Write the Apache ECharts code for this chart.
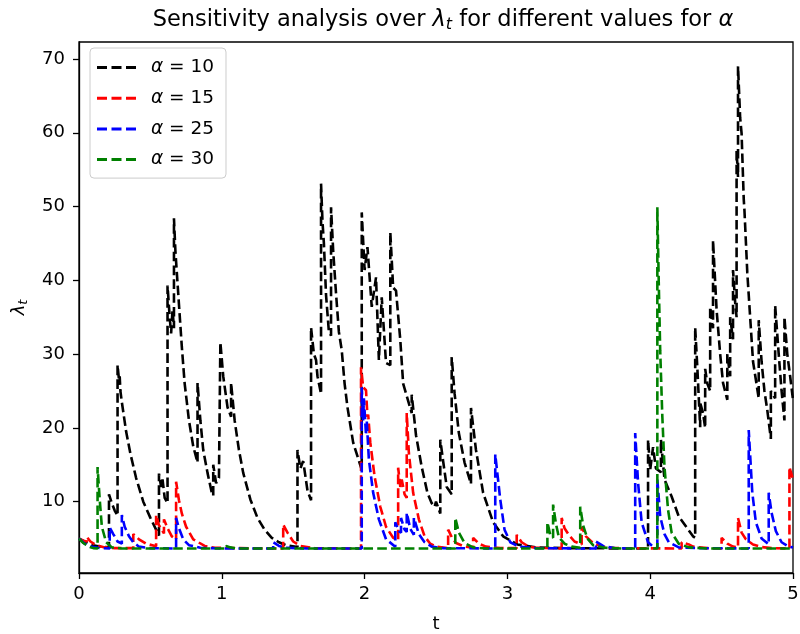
<!DOCTYPE html>
<html>
<head>
<meta charset="utf-8">
<script src="https://cdn.jsdelivr.net/npm/echarts@6/dist/echarts.min.js"></script>
<style>html,body{margin:0;padding:0;background:#fff}#c{width:800px;height:634px}</style>
</head>
<body>
<div id="c"></div>
<script>
// Series values: [t, lambda_t]
const alpha10 = [
  [0,5.0],[0.05,4.5],[0.1,4.1],[0.15,3.9],[0.21,3.8],[0.21,11.0],[0.23,9.8],[0.25,8.8],[0.27,8.1],[0.27,28.5],
  [0.28,26.5],[0.285,27.0],[0.29,25.0],[0.3,23.5],[0.33,19.5],[0.36,16.5],[0.4,13.2],[0.45,10.0],[0.5,7.8],[0.56,5.4],
  [0.56,13.8],[0.575,12.0],[0.585,13.0],[0.6,10.5],[0.62,9.8],[0.62,39.3],[0.635,35],[0.645,32.8],[0.655,36],[0.665,33.5],
  [0.665,48.4],[0.675,44],[0.69,39.6],[0.72,31],[0.74,26],[0.77,21],[0.8,17.5],[0.83,15.3],[0.83,26.1],[0.85,21],
  [0.87,17],[0.9,13.9],[0.93,11.2],[0.94,10.8],[0.94,15],[0.96,12.5],[0.98,13.2],[0.99,13],[0.99,31.6],[1.01,27],
  [1.04,22.8],[1.065,21.5],[1.065,26.1],[1.09,21],[1.12,17],[1.15,13.9],[1.2,10.3],[1.25,7.8],[1.3,6.2],[1.35,5.1],
  [1.4,4.5],[1.45,4.1],[1.53,3.85],[1.53,17.0],[1.55,14.5],[1.57,15.5],[1.6,11.5],[1.625,10.2],[1.625,33.6],[1.645,30],
  [1.66,29.2],[1.67,27],[1.695,24.6],[1.695,53.1],[1.705,48],[1.715,45],[1.73,38],[1.75,33],[1.765,32.5],[1.765,49.9],
  [1.78,44],[1.8,38.2],[1.82,33],[1.84,30.5],[1.86,26],[1.88,22.8],[1.92,18],[1.98,14.3],[1.98,49.2],[2.0,41.4],
  [2.02,44.5],[2.05,36.4],[2.08,40.4],[2.1,29.2],[2.12,37.7],[2.15,28.8],[2.18,28.5],[2.18,46.5],[2.2,39],[2.22,38.6],
  [2.25,31.9],[2.27,26],[2.33,22],[2.33,24.5],[2.36,19],[2.4,14.7],[2.44,11.2],[2.47,9.8],[2.49,9.3],[2.5,10],
  [2.53,8.4],[2.53,18.4],[2.55,15.5],[2.575,12.0],[2.61,11],[2.61,29.6],[2.63,24.7],[2.66,19.3],[2.7,15.3],[2.745,12.4],
  [2.745,22.7],[2.78,17],[2.83,11.2],[2.9,7.2],[2.97,5.3],[3.07,4.2],[3.2,3.8],[3.4,3.7],[3.985,3.65],[3.985,18.4],
  [4.0,14.3],[4.02,17.4],[4.04,14.5],[4.075,14.0],[4.075,18.4],[4.1,13],[4.15,10.7],[4.2,8],[4.3,5.3],[4.315,5.1],
  [4.315,33.6],[4.33,28.2],[4.35,20.1],[4.35,23.4],[4.37,22],[4.385,20],[4.385,28],[4.4,26],[4.42,25],[4.42,36.4],
  [4.435,34],[4.44,33.5],[4.44,45.4],[4.465,36],[4.49,30],[4.51,26.1],[4.54,23.8],[4.54,30],[4.56,27],[4.56,35],
  [4.58,32],[4.58,41.4],[4.595,37],[4.605,35],[4.605,57.6],[4.615,54],[4.615,69],[4.63,62],[4.64,59.9],[4.655,51],
  [4.66,49.5],[4.68,41],[4.7,35],[4.72,29],[4.76,24],[4.76,34.6],[4.78,29],[4.8,25],[4.82,22.4],[4.845,18.5],
  [4.845,25],[4.875,24],[4.875,36.6],[4.9,30],[4.92,25],[4.94,21],[4.94,35],[4.96,30],[4.98,27],[5.0,23.8]
];
const alpha15 = [
  [0,5.0],[0.03,4.7],[0.055,4.6],[0.055,5.2],[0.08,4.6],[0.12,4.1],[0.18,3.8],[0.25,3.7],[0.38,3.7],[0.38,5.6],
  [0.42,4.9],[0.47,4.3],[0.54,3.95],[0.54,8.2],[0.56,6.8],[0.595,5.7],[0.595,7.6],[0.62,6.4],[0.65,5.3],[0.68,4.9],
  [0.68,12.7],[0.7,10.2],[0.72,8.4],[0.75,6.6],[0.8,4.9],[0.88,4.0],[0.95,3.75],[1.1,3.7],[1.43,3.65],[1.43,6.9],
  [1.46,5.8],[1.5,4.6],[1.55,4.0],[1.65,3.7],[1.975,3.65],[1.975,28.2],[1.99,25.5],[2.01,25.1],[2.02,21.5],[2.025,21.8],
  [2.04,18.0],[2.07,13.4],[2.11,9.3],[2.15,6.6],[2.2,5.1],[2.235,4.8],[2.235,14.6],[2.25,12.0],[2.26,13.0],[2.28,11.0],
  [2.295,10.5],[2.295,22],[2.31,16.6],[2.34,11.2],[2.38,7.6],[2.42,5.3],[2.46,4.3],[2.5,3.9],[2.585,3.7],[2.585,6.2],
  [2.61,5.2],[2.64,4.4],[2.7,3.9],[2.76,3.75],[2.76,5.1],[2.8,4.3],[2.85,3.9],[2.95,3.7],[3.065,3.7],[3.065,5.5],
  [3.1,4.5],[3.15,3.9],[3.2,3.75],[3.38,3.65],[3.38,7.8],[3.4,6.4],[3.43,5.5],[3.47,4.6],[3.52,4.2],[3.52,6.6],
  [3.55,5.3],[3.6,4.4],[3.65,3.95],[3.75,3.7],[4.22,3.65],[4.22,4.5],[4.27,4.2],[4.3,3.9],[4.4,3.7],[4.5,3.65],
  [4.5,5.1],[4.54,4.3],[4.58,3.9],[4.615,3.8],[4.615,7.8],[4.64,5.8],[4.67,4.9],[4.72,4.2],[4.78,3.85],[4.85,3.7],
  [4.975,3.65],[4.975,14.7],[5.0,13]
];
const alpha25 = [
  [0,5.0],[0.04,4.3],[0.08,3.9],[0.15,3.7],[0.215,3.65],[0.215,6.5],[0.24,5.6],[0.27,4.6],[0.3,4.3],[0.3,8.2],
  [0.32,6.6],[0.35,5.3],[0.38,4.5],[0.42,3.9],[0.5,3.7],[0.68,3.65],[0.68,7.8],[0.7,6.4],[0.73,4.9],[0.77,4.1],
  [0.85,3.75],[1.0,3.65],[1.36,3.65],[1.36,4.5],[1.4,4.0],[1.45,3.75],[1.6,3.65],[1.98,3.65],[1.98,25.5],[1.99,21],
  [1.995,24],[2.01,19],[2.015,21],[2.03,15.7],[2.06,11.2],[2.1,7.6],[2.15,4.9],[2.215,3.9],[2.215,7.2],[2.24,6.0],
  [2.255,5.8],[2.255,7.8],[2.28,6.2],[2.295,5.9],[2.295,8.5],[2.32,6.3],[2.345,5.5],[2.345,7.8],[2.38,5.6],[2.42,4.5],
  [2.47,3.9],[2.55,3.7],[2.915,3.65],[2.915,16.4],[2.95,10.3],[2.98,6.2],[3.02,4.5],[3.08,3.9],[3.2,3.7],[3.62,3.65],
  [3.62,4.6],[3.67,4.0],[3.75,3.7],[3.895,3.65],[3.895,19.3],[3.915,12.6],[3.94,7.2],[3.985,4.5],[4.02,3.9],[4.05,3.8],
  [4.05,13],[4.07,8],[4.1,5.6],[4.13,4.5],[4.2,3.8],[4.35,3.7],[4.69,3.65],[4.69,19.7],[4.715,11.2],[4.74,7.2],
  [4.78,5.0],[4.83,4.2],[4.83,11.2],[4.85,8.5],[4.88,6],[4.92,4.5],[4.97,3.9],[5.0,3.8]
];
const alpha30 = [
  [0,5.0],[0.03,4.4],[0.07,3.9],[0.1,3.7],[0.13,3.65],[0.13,14.7],[0.145,10.3],[0.16,6.6],[0.19,4.5],[0.23,3.8],
  [0.3,3.65],[1.03,3.65],[1.03,4.0],[1.06,3.8],[1.1,3.65],[2.635,3.65],[2.635,7.8],[2.66,5.8],[2.7,4.4],[2.76,3.8],
  [2.85,3.65],[3.28,3.65],[3.28,7.2],[3.3,5.5],[3.32,5.1],[3.32,9.6],[3.34,7.0],[3.36,5.2],[3.4,4.3],[3.45,3.9],
  [3.51,3.75],[3.51,9.3],[3.53,6.8],[3.56,5.0],[3.6,4.1],[3.68,3.75],[3.8,3.65],[4.05,3.65],[4.05,49.9],[4.06,39.6],
  [4.07,30.5],[4.085,21.5],[4.1,14.7],[4.125,8.9],[4.15,5.8],[4.2,4.3],[4.27,3.8],[4.4,3.65],[5.0,3.65]
];
const seriesNames = ['α = 10', 'α = 15', 'α = 25', 'α = 30'];
const seriesColors = ['#000000', '#ff0000', '#0000ff', '#008000'];
const seriesData = [alpha10, alpha15, alpha25, alpha30];
const xTicks = [0, 1, 2, 3, 4, 5];
const yTicks = [10, 20, 30, 40, 50, 60, 70];

const FONT = 'DejaVu Sans';
const DASH_ICON = 'path://M0,0h10v3h-10z M14.5,0h10v3h-10z M29,0h10v3h-10z';
const chart = echarts.init(document.getElementById('c'), null, {renderer: 'canvas'});
chart.setOption({
  animation: false,
  backgroundColor: '#ffffff',
  title: {
    text: 'Sensitivity analysis over {i|λ}{s|t} for different values for {i|α}',
    left: 438, top: 2, textAlign: 'center',
    textStyle: {
      fontFamily: FONT, fontSize: 22.5, fontWeight: 'normal', color: '#000',
      rich: {
        i: {fontFamily: FONT, fontSize: 22.5, fontStyle: 'italic', color: '#000'},
        s: {fontFamily: FONT, fontSize: 16, fontStyle: 'italic', color: '#000', padding: [10, 0, 0, 0]}
      }
    }
  },
  legend: {
    orient: 'vertical', left: 90, top: 48,
    data: seriesNames.map(function (n) { return {name: n, icon: DASH_ICON}; }),
    itemWidth: 39, itemHeight: 3, itemGap: 11.7,
    padding: [10, 12, 9, 7],
    backgroundColor: 'rgba(255,255,255,0.8)',
    borderColor: '#cccccc', borderWidth: 1, borderRadius: 4,
    formatter: function (name) { return '{i|α} = ' + name.split('= ')[1]; },
    textStyle: {
      fontFamily: FONT, fontSize: 18.5, color: '#000', padding: [0, 0, 0, 10],
      rich: { i: {fontFamily: FONT, fontSize: 18.5, fontStyle: 'italic', color: '#000'} }
    }
  },
  grid: {left: 79, right: 7, top: 42, bottom: 61, containLabel: false, outerBoundsMode: 'none',
         show: true, borderColor: '#000', borderWidth: 1.3},
  xAxis: {
    type: 'value', min: 0, max: 5, interval: 1,
    name: 't', nameLocation: 'middle', nameGap: 42,
    nameTextStyle: {fontFamily: FONT, fontSize: 18, color: '#000'},
    axisLine: {show: true, lineStyle: {color: '#000', width: 1.3}},
    axisTick: {show: true, inside: false, length: 6, lineStyle: {color: '#000', width: 1.3}},
    axisLabel: {fontFamily: FONT, fontSize: 18, color: '#000', margin: 12,
                formatter: function (v) { return xTicks.indexOf(v) >= 0 ? String(v) : ''; }},
    splitLine: {show: false}
  },
  yAxis: {
    type: 'value', min: 0.33, max: 72.3,
    name: '{i|λ}{s|t}', nameLocation: 'middle', nameGap: 49, nameRotate: 90,
    nameTextStyle: {
      fontFamily: FONT, fontSize: 18, color: '#000',
      rich: {
        i: {fontFamily: FONT, fontSize: 18, fontStyle: 'italic', color: '#000'},
        s: {fontFamily: FONT, fontSize: 13, fontStyle: 'italic', color: '#000', padding: [8, 0, 0, 0]}
      }
    },
    axisLine: {show: true, lineStyle: {color: '#000', width: 1.3}},
    axisTick: {show: true, inside: false, length: 6, customValues: yTicks, lineStyle: {color: '#000', width: 1.3}},
    axisLabel: {fontFamily: FONT, fontSize: 18, color: '#000', margin: 14, customValues: yTicks},
    splitLine: {show: false}
  },
  series: seriesData.map(function (d, k) {
    return {
      name: seriesNames[k], type: 'line', data: d, showSymbol: false, symbol: 'none',
      clip: true, z: 2 + k,
      lineStyle: {color: seriesColors[k], width: 2.6, type: [9.6, 4.2], cap: 'butt'},
      itemStyle: {color: seriesColors[k]}
    };
  })
});
</script>
</body>
</html>
